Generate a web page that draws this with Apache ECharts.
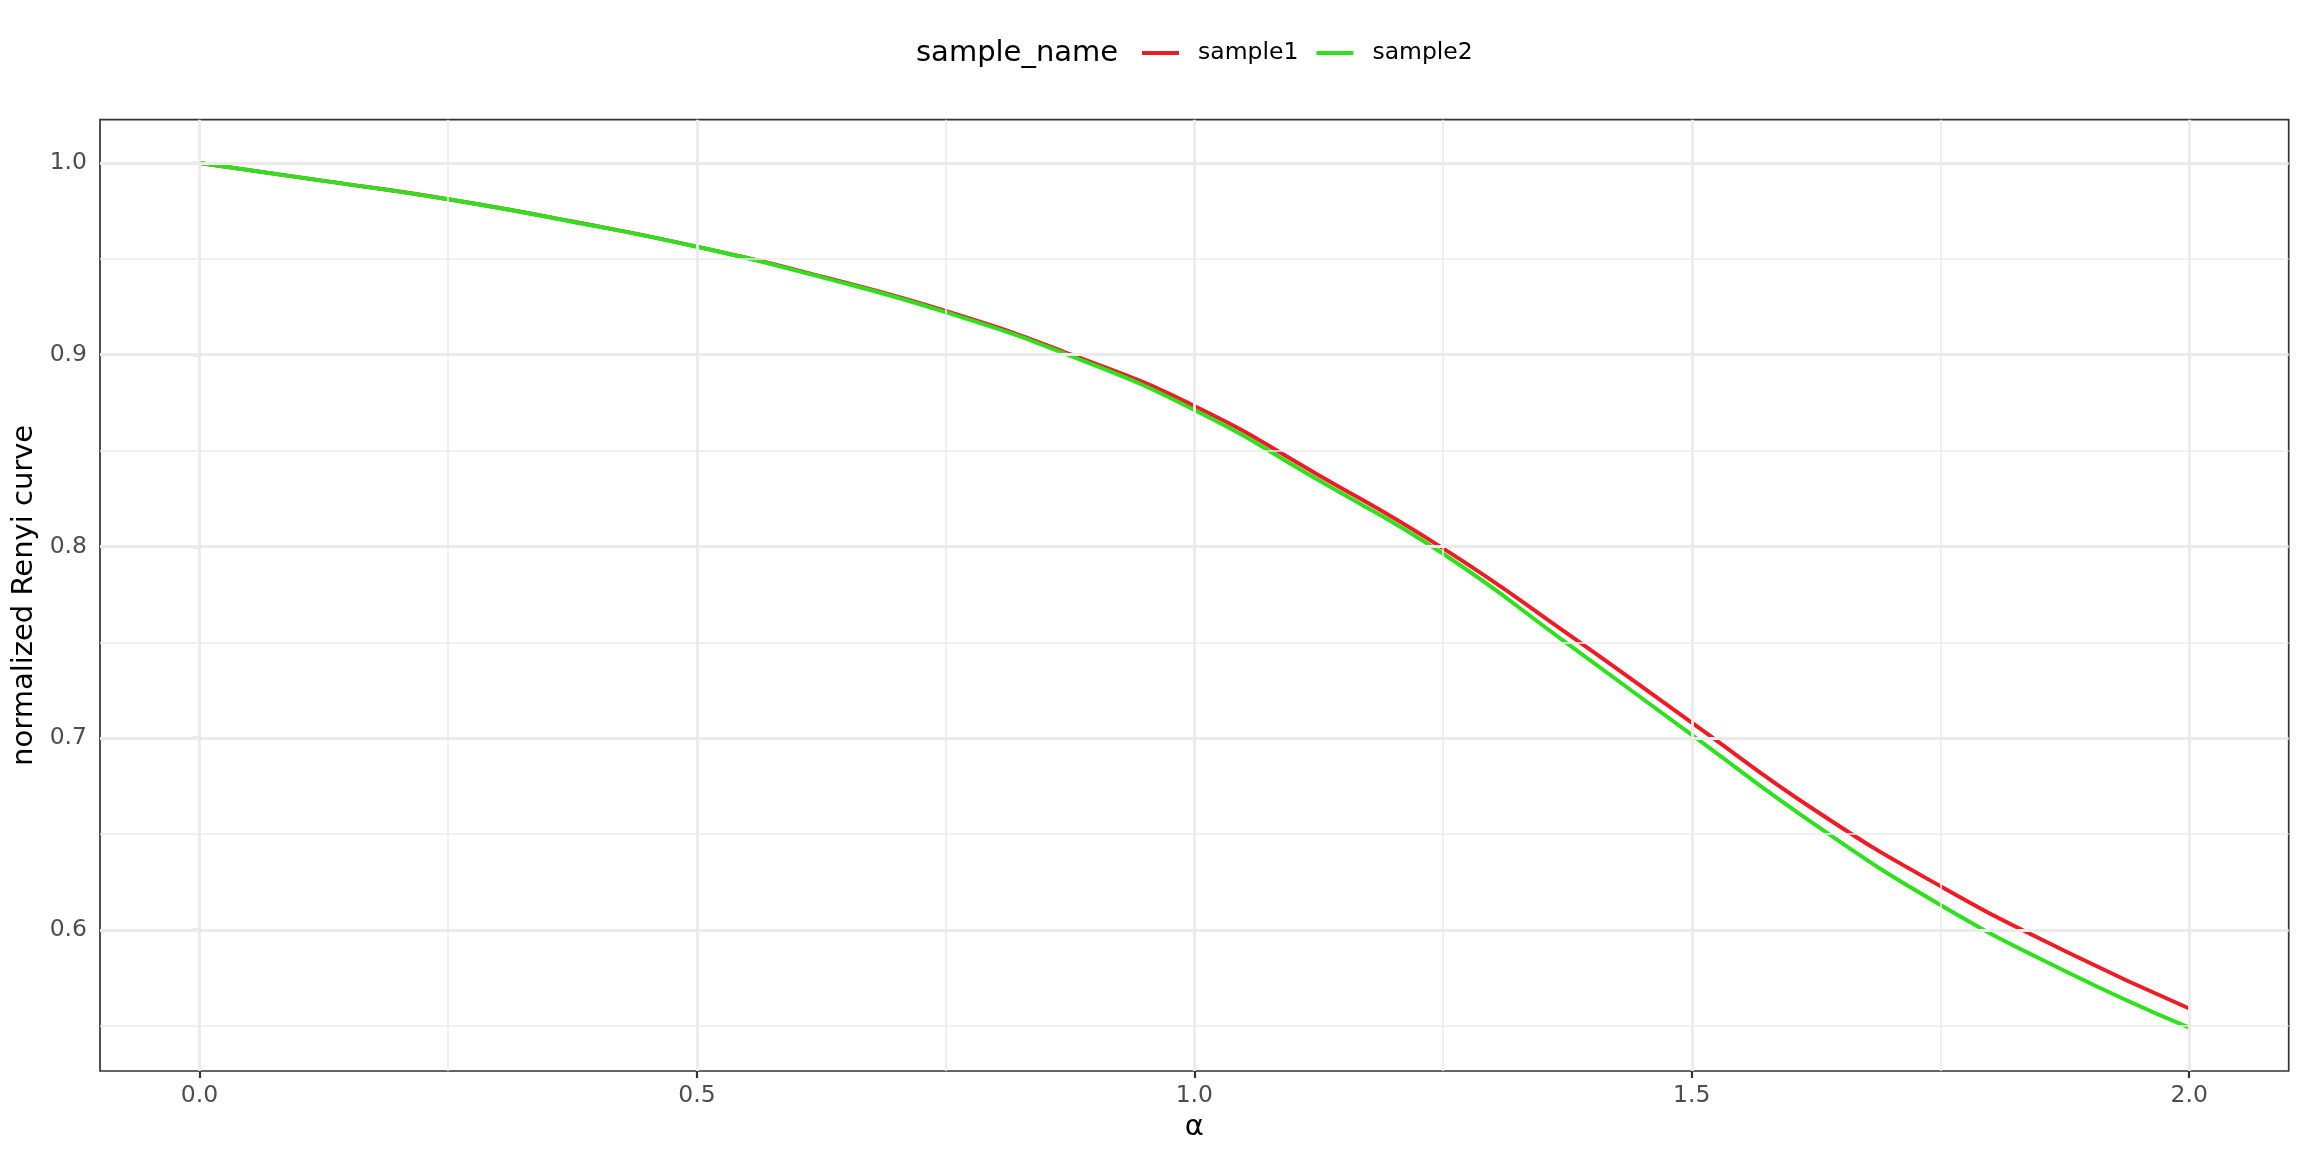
<!DOCTYPE html>
<html><head><meta charset="utf-8">
<script src="https://cdn.jsdelivr.net/npm/echarts@6/dist/echarts.min.js"></script>
<style>html,body{margin:0;padding:0;background:#fff}#c{width:2304px;height:1152px}</style>
</head><body><div id="c"></div>
<script>
const alpha   = [0, 0.125, 0.25, 0.375, 0.5, 0.625, 0.75, 0.875, 1.0, 1.125, 1.25, 1.375, 1.5, 1.625, 1.75, 1.875, 2.0];
const sample1 = [1.000, 0.9907, 0.9811, 0.9695, 0.9564, 0.9408, 0.9228, 0.9003, 0.8733, 0.8372, 0.7990, 0.7545, 0.7081, 0.6620, 0.6228, 0.5890, 0.5590];
const sample2 = [1.000, 0.9907, 0.9811, 0.9694, 0.9563, 0.9405, 0.9222, 0.8995, 0.8712, 0.8345, 0.7962, 0.7493, 0.7017, 0.6545, 0.6130, 0.5786, 0.5490];
const seriesNames = ['sample1', 'sample2'];
const xTicks = [0, 0.5, 1.0, 1.5, 2.0];
const xMinor = [0.25, 0.75, 1.25, 1.75];
const yTicks = [0.6, 0.7, 0.8, 0.9, 1.0];
const yMinor = [0.55, 0.65, 0.75, 0.85, 0.95];

const FONT = 'DejaVu Sans';
const majorStyle = {color: '#EBEBEB', width: 2.8, type: 'solid'};
const minorStyle = {color: '#EBEBEB', width: 1.6, type: 'solid'};
const gridLines = []
  .concat(yMinor.map(v => ({yAxis: v, lineStyle: minorStyle})))
  .concat(xMinor.map(v => ({xAxis: v, lineStyle: minorStyle})))
  .concat(yTicks.map(v => ({yAxis: v, lineStyle: majorStyle})))
  .concat(xTicks.map(v => ({xAxis: v, lineStyle: majorStyle})));

const chart = echarts.init(document.getElementById('c'), null, {renderer: 'canvas'});
chart.setOption({
  animation: false,
  backgroundColor: '#ffffff',
  title: {
    text: 'sample_name', left: 916, top: 38, padding: 0,
    textStyle: {fontFamily: FONT, fontSize: 29, fontWeight: 'normal', color: '#000', lineHeight: 30}
  },
  legend: {
    data: seriesNames, left: 1142, top: 39, padding: 0,
    icon: 'rect', itemWidth: 37, itemHeight: 4, itemGap: 18,
    textStyle: {fontFamily: FONT, fontSize: 23.5, color: '#000', lineHeight: 28, padding: [0, 0, 0, 14]}
  },
  grid: {
    left: 100, right: 15.3, top: 119.7, bottom: 81, containLabel: false,
    show: true, borderColor: '#333333', borderWidth: 1.7, backgroundColor: 'transparent'
  },
  xAxis: {
    type: 'value', min: -0.1, max: 2.1,
    name: 'α', nameLocation: 'middle', nameGap: 33,
    nameTextStyle: {fontFamily: FONT, fontSize: 29, color: '#000'},
    axisLine: {show: false},
    axisTick: {show: true, customValues: xTicks, length: 7, lineStyle: {color: '#333333', width: 2.2}},
    axisLabel: {customValues: xTicks, margin: 13, fontFamily: FONT, fontSize: 23.5, color: '#4D4D4D',
      formatter: v => Number(v).toFixed(1)},
    splitLine: {show: false}
  },
  yAxis: {
    type: 'value', min: 0.5264, max: 1.0226,
    name: 'normalized Renyi curve', nameLocation: 'middle', nameGap: 52,
    nameTextStyle: {fontFamily: FONT, fontSize: 29, color: '#000'},
    axisLine: {show: false},
    axisTick: {show: true, customValues: yTicks, length: 7, lineStyle: {color: '#333333', width: 2.2}},
    axisLabel: {customValues: yTicks, margin: 13, fontFamily: FONT, fontSize: 23.5, color: '#4D4D4D',
      formatter: v => Number(v).toFixed(1)},
    splitLine: {show: false}
  },
  series: [
    {
      name: '_grid', type: 'line', z: 1, silent: true, showSymbol: false,
      data: [[alpha[0], sample1[0]]], lineStyle: {width: 0, opacity: 0},
      markLine: {silent: true, symbol: ['none', 'none'], animation: false,
        label: {show: false}, emphasis: {disabled: true}, data: gridLines}
    },
    {
      name: seriesNames[0], type: 'line', z: 3, showSymbol: false, smooth: 0.5,
      data: alpha.map((a, i) => [a, sample1[i]]),
      itemStyle: {color: '#EE1C25'}, lineStyle: {color: '#EE1C25', width: 4},
      emphasis: {disabled: true}
    },
    {
      name: seriesNames[1], type: 'line', z: 4, showSymbol: false, smooth: 0.5,
      data: alpha.map((a, i) => [a, sample2[i]]),
      itemStyle: {color: '#2EE01E'}, lineStyle: {color: '#2EE01E', width: 4},
      emphasis: {disabled: true}
    }
  ]
});
</script>
</body></html>
